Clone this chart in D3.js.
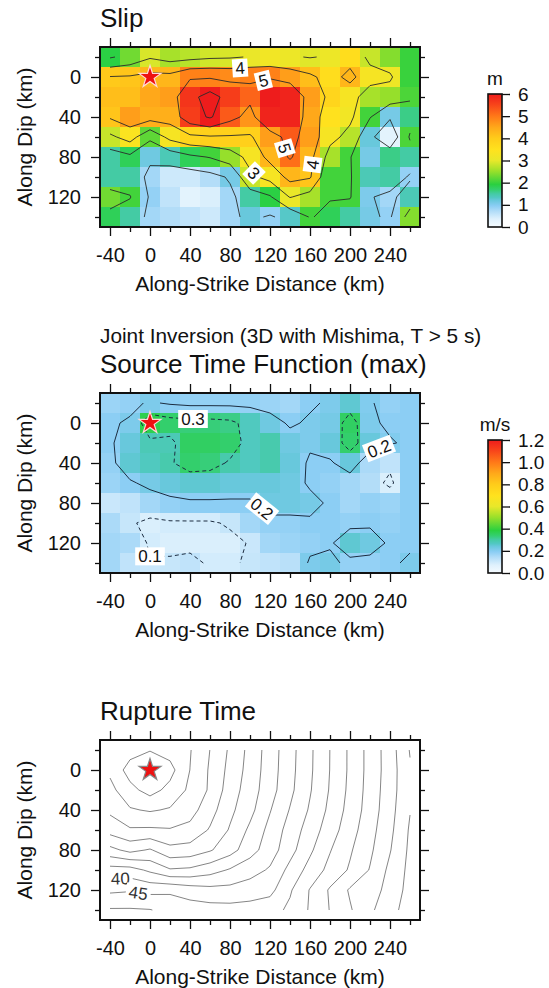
<!DOCTYPE html>
<html>
<head>
<meta charset="utf-8">
<script src="https://cdn.jsdelivr.net/npm/d3@7"></script>
<style>
  body { margin: 0; background: #fff; }
  text { font-family: "Liberation Sans", Arial, sans-serif; fill: #111; }
</style>
</head>
<body>
<svg id="chart" width="549" height="988"></svg>
<script>
// ==================== data ==================== //

// grid nodes (km): along strike and along dip
const xKm = [-40, -20, 0, 20, 40, 60, 80, 100, 120, 140, 160, 180, 200, 220, 240, 260];
const yKm = [-20, 0, 20, 40, 60, 80, 100, 120, 140];

// slip (m), one row per dip node
const slip = [
  [1.9, 2.3, 2.9, 2.6, 2.7, 2.85, 2.9, 3.05, 3.2, 3.1, 2.95, 3.1, 3.6, 2.8, 2.4, 2.0],
  [4.05, 4.1, 4.3, 4.3, 4.9, 4.9, 4.8, 4.9, 4.9, 4.6, 4.2, 3.6, 4.3, 3.3, 3.15, 2.0],
  [4.2, 4.2, 4.5, 4.6, 5.7, 6.4, 5.6, 5.2, 6.0, 5.9, 4.6, 3.8, 3.3, 2.6, 2.5, 2.1],
  [4.1, 4.6, 4.4, 4.4, 5.6, 6.1, 5.3, 4.7, 5.9, 5.9, 4.5, 3.5, 3.2, 2.05, 1.1, 1.6],
  [2.8, 3.4, 2.2, 3.3, 3.8, 3.9, 3.9, 3.9, 4.6, 5.3, 4.6, 3.3, 2.7, 1.2, 0.3, 2.1],
  [1.5, 1.8, 1.15, 1.4, 1.8, 2.05, 2.5, 3.3, 4.3, 5.1, 4.3, 2.6, 2.05, 1.1, 1.6, 1.5],
  [1.5, 1.5, 0.8, 0.5, 0.5, 0.7, 1.1, 2.8, 3.3, 4.3, 4.1, 2.05, 2.05, 1.4, 1.5, 0.9],
  [2.3, 2.05, 0.9, 0.6, 0.3, 0.4, 0.8, 1.5, 1.9, 3.05, 2.6, 2.05, 2.05, 1.05, 0.8, 1.4],
  [1.8, 1.5, 0.8, 0.7, 0.6, 0.5, 0.8, 1.2, 0.9, 1.3, 2.05, 1.8, 1.5, 1.1, 0.9, 2.4]
];

// peak source time function (m/s)
const stf = [
  [0.17, 0.18, 0.21, 0.19, 0.18, 0.18, 0.18, 0.18, 0.17, 0.16, 0.19, 0.21, 0.25, 0.205, 0.18, 0.19],
  [0.19, 0.21, 0.37, 0.34, 0.33, 0.33, 0.32, 0.27, 0.23, 0.19, 0.21, 0.22, 0.35, 0.21, 0.19, 0.19],
  [0.19, 0.24, 0.28, 0.28, 0.35, 0.35, 0.34, 0.27, 0.29, 0.23, 0.21, 0.24, 0.34, 0.24, 0.205, 0.19],
  [0.18, 0.25, 0.27, 0.29, 0.34, 0.33, 0.29, 0.27, 0.29, 0.24, 0.19, 0.19, 0.24, 0.15, 0.12, 0.19],
  [0.17, 0.19, 0.22, 0.24, 0.25, 0.25, 0.24, 0.24, 0.24, 0.23, 0.19, 0.18, 0.16, 0.14, 0.08, 0.19],
  [0.105, 0.12, 0.16, 0.18, 0.19, 0.19, 0.19, 0.19, 0.23, 0.23, 0.22, 0.19, 0.16, 0.18, 0.17, 0.19],
  [0.15, 0.11, 0.08, 0.09, 0.09, 0.09, 0.11, 0.16, 0.18, 0.18, 0.19, 0.19, 0.18, 0.19, 0.18, 0.19],
  [0.16, 0.15, 0.09, 0.08, 0.08, 0.08, 0.08, 0.105, 0.16, 0.17, 0.18, 0.19, 0.25, 0.23, 0.19, 0.19],
  [0.16, 0.12, 0.105, 0.11, 0.12, 0.09, 0.09, 0.11, 0.12, 0.13, 0.21, 0.22, 0.18, 0.18, 0.19, 0.21]
];

// rupture time (s)
const rupture = [
  [9.8, 7.0, 5.3, 7.0, 9.7, 15.05, 20.8, 26.5, 32.4, 38.2, 44.1, 50.05, 55.9, 61.8, 67.6, 75.3],
  [9.0, 2.9, 0.0, 3.3, 10.05, 15.6, 21.5, 26.9, 32.6, 38.4, 44.2, 50.1, 55.9, 61.8, 67.5, 74.5],
  [11.5, 6.5, 3.1, 6.5, 11.0, 15.7, 22.5, 27.5, 33.0, 38.8, 44.6, 50.4, 56.2, 62.0, 67.8, 74.2],
  [14.0, 10.5, 9.5, 10.5, 13.0, 18.0, 23.8, 28.5, 34.7, 40.3, 45.6, 51.2, 56.8, 62.3, 68.2, 74.8],
  [18.0, 15.6, 15.8, 15.4, 16.5, 20.5, 25.5, 31.0, 36.5, 42.0, 47.3, 52.6, 57.9, 63.2, 68.8, 75.6],
  [26.5, 23.5, 25.5, 21.5, 22.0, 24.5, 28.0, 33.0, 37.6, 43.2, 49.1, 54.7, 59.4, 64.1, 69.7, 76.0],
  [37.0, 37.0, 34.0, 30.5, 31.0, 33.0, 35.5, 38.0, 40.6, 46.5, 51.8, 56.5, 60.6, 65.3, 71.2, 76.3],
  [44.0, 44.5, 43.5, 44.0, 42.5, 41.5, 41.5, 42.5, 43.5, 49.4, 55.3, 60.6, 65.6, 67.0, 72.3, 76.5],
  [50.5, 50.5, 50.2, 48.5, 47.5, 47.0, 46.8, 47.0, 48.0, 51.0, 55.5, 60.2, 64.5, 69.0, 73.5, 77.0]
];

const slipLevels = [1, 2, 3, 4, 5, 6];
const stfLevels = [0.1, 0.2, 0.3];
const ruptureLevels = [5, 10, 15, 20, 25, 30, 35, 40, 45, 50, 55, 60, 65, 70, 75];

const slipTicks = [0, 1, 2, 3, 4, 5, 6];
const stfTicks = [0, 0.2, 0.4, 0.6, 0.8, 1.0, 1.2];
const xMajor = [-40, 0, 40, 80, 120, 160, 200, 240];
const xMinor = [-20, 20, 60, 100, 140, 180, 220, 260];
const yMajor = [0, 40, 80, 120];
const yMinor = [-20, 20, 60, 100, 140];

// contour annotations: level and rough spot where it is written
const slipNotes = [[4, 90, -10], [5, 113, 2], [5, 132, 72], [4, 166, 88], [3, 102, 98]];
const stfNotes = [[0.3, 43, -3], [0.2, 111, 87], [0.2, 230, 28], [0.1, -8, 138]];
const ruptureNotes = [[40, -30, 100], [45, -12, 125]];

// ==================== drawing ==================== //

const palette = [
  [0, "#f5fbff"], [0.06, "#dff1fd"], [0.12, "#b0dcf8"], [0.16, "#8acdf4"],
  [0.2, "#68c8dc"], [0.22, "#52c8c4"], [0.25, "#44cba4"], [0.28, "#34cf70"],
  [0.32, "#2ad040"], [0.42, "#9ae02a"], [0.5, "#e8e82a"], [0.58, "#ffe21e"],
  [0.667, "#ffcc1a"], [0.75, "#ffa81a"], [0.833, "#ff7818"], [0.92, "#f8441a"],
  [1, "#ee1c1c"]
];

const svg = d3.select("#chart");
const x = d3.scaleLinear().domain([-50, 270]).range([100, 420]);

function colorScale(vmax) {
  return d3.scaleLinear()
    .domain(palette.map(p => p[0] * vmax))
    .range(palette.map(p => p[1]))
    .clamp(true);
}

function contourLines(values, level) {
  const nx = xKm.length, ny = yKm.length;
  const mp = d3.contours().size([nx, ny]).thresholds([level])(values.flat())[0];
  const onEdge = p => p[0] <= 0 || p[0] >= nx || p[1] <= 0 || p[1] >= ny;
  const lines = [];
  mp.coordinates.forEach(poly => poly.forEach(ring => {
    let cur = null;
    ring.forEach(p => {
      if (onEdge(p)) {
        if (cur && cur.length > 1) lines.push(cur);
        cur = null;
        return;
      }
      if (!cur) cur = [];
      cur.push(p);
    });
    if (cur && cur.length > 1) lines.push(cur);
  }));
  // grid coords -> km
  return lines.map(l => l.map(([gx, gy]) => [-50 + 20 * gx, -30 + 20 * gy]));
}

function drawPanel(top, o) {
  const y = d3.scaleLinear().domain([-30, 150]).range([top, top + 180]);
  const g = svg.append("g");
  const bottom = top + 180;

  if (o.values && o.vmax) {
    const color = colorScale(o.vmax);
    const cells = [];
    o.values.forEach((row, j) => row.forEach((v, i) => cells.push({ i, j, v })));
    g.append("g").selectAll("rect")
      .data(cells)
      .join("rect")
      .attr("x", d => x(xKm[d.i] - 10))
      .attr("y", d => y(yKm[d.j] - 10))
      .attr("width", x(10) - x(-10) + 0.4)
      .attr("height", y(10) - y(-10) + 0.4)
      .attr("fill", d => color(d.v));
  }

  // contours
  const line = d3.line().x(d => x(d[0])).y(d => y(d[1]));
  const byLevel = {};
  o.levels.forEach(level => {
    const lines = contourLines(o.values, level);
    byLevel[level] = lines;
    g.append("g").selectAll("path")
      .data(lines)
      .join("path")
      .attr("d", line)
      .attr("fill", "none")
      .attr("stroke", o.lineColor)
      .attr("stroke-width", o.lineWidth)
      .attr("stroke-dasharray", o.dashed && o.dashed(level) ? "4,3" : null);
  });

  // contour labels snapped onto their line
  o.notes.forEach(([level, kx, ky]) => {
    const px = x(kx), py = y(ky);
    let best = null;
    (byLevel[level] || []).forEach(l => {
      for (let k = 0; k < l.length - 1; k++) {
        const ax = x(l[k][0]), ay = y(l[k][1]), bx = x(l[k + 1][0]), by = y(l[k + 1][1]);
        const dx = bx - ax, dy = by - ay;
        const len2 = dx * dx + dy * dy || 1;
        const t = Math.max(0, Math.min(1, ((px - ax) * dx + (py - ay) * dy) / len2));
        const cx = ax + t * dx, cy = ay + t * dy;
        const dist = (cx - px) ** 2 + (cy - py) ** 2;
        if (!best || dist < best.dist) best = { dist, cx, cy, ang: Math.atan2(dy, dx) * 180 / Math.PI };
      }
    });
    if (!best) best = { cx: px, cy: py, ang: 0 };
    let ang = best.ang;
    if (ang > 90) ang -= 180;
    if (ang < -90) ang += 180;
    const lg = g.append("g").attr("transform", `translate(${best.cx},${best.cy}) rotate(${ang})`);
    const rect = lg.append("rect").attr("fill", "#fff");
    const txt = lg.append("text")
      .attr("text-anchor", "middle")
      .attr("dy", "0.36em")
      .style("font-size", o.noteSize + "px")
      .style("fill", o.noteColor)
      .text(o.noteFormat(level));
    const w = txt.node().getComputedTextLength() + 6;
    const h = o.noteSize + 1;
    rect.attr("x", -w / 2).attr("y", -h / 2).attr("width", w).attr("height", h);
  });

  // hypocentre
  g.append("path")
    .attr("d", d3.symbol(d3.symbolStar).size(150)())
    .attr("transform", `translate(${x(0)},${y(0)})`)
    .attr("fill", "#ee1111")
    .attr("stroke", o.starStroke)
    .attr("stroke-width", 1.2);

  // frame ticks
  const styleAxis = sel => {
    sel.select(".domain").remove();
    sel.selectAll(".tick line").attr("stroke", "#111").attr("stroke-width", 1.3);
    sel.selectAll("text").style("font-size", "20px").style("font-family", "Liberation Sans, Arial, sans-serif").attr("fill", "#111");
  };
  const fmt = d => String(d);
  g.append("g").attr("transform", `translate(0,${bottom})`)
    .call(d3.axisBottom(x).tickValues(xMajor).tickSize(9).tickPadding(12).tickFormat(fmt)).call(styleAxis);
  g.append("g").attr("transform", `translate(0,${bottom})`)
    .call(d3.axisBottom(x).tickValues(xMinor).tickSize(5).tickFormat("")).call(styleAxis);
  g.append("g").attr("transform", `translate(0,${top})`)
    .call(d3.axisTop(x).tickValues(xMajor).tickSize(9).tickFormat("")).call(styleAxis);
  g.append("g").attr("transform", `translate(0,${top})`)
    .call(d3.axisTop(x).tickValues(xMinor).tickSize(5).tickFormat("")).call(styleAxis);
  g.append("g").attr("transform", `translate(${x(-50)},0)`)
    .call(d3.axisLeft(y).tickValues(yMajor).tickSize(9).tickPadding(10).tickFormat(fmt)).call(styleAxis);
  g.append("g").attr("transform", `translate(${x(-50)},0)`)
    .call(d3.axisLeft(y).tickValues(yMinor).tickSize(5).tickFormat("")).call(styleAxis);
  g.append("g").attr("transform", `translate(${x(270)},0)`)
    .call(d3.axisRight(y).tickValues(yMajor).tickSize(9).tickFormat("")).call(styleAxis);
  g.append("g").attr("transform", `translate(${x(270)},0)`)
    .call(d3.axisRight(y).tickValues(yMinor).tickSize(5).tickFormat("")).call(styleAxis);

  g.append("rect")
    .attr("x", x(-50)).attr("y", top)
    .attr("width", x(270) - x(-50)).attr("height", 180)
    .attr("fill", "none").attr("stroke", "#111").attr("stroke-width", 2);

  // titles
  g.append("text").attr("x", 100).attr("y", top - 20).style("font-size", "26px").text(o.title);
  g.append("text").attr("x", (x(-50) + x(270)) / 2).attr("y", bottom + 64)
    .attr("text-anchor", "middle").style("font-size", "21px").text("Along-Strike Distance (km)");
  g.append("text").attr("transform", `translate(32,${top + 90}) rotate(-90)`)
    .attr("text-anchor", "middle").style("font-size", "21px").text("Along Dip (km)");

  // colour bar
  if (o.vmax) {
    const id = "grad" + Math.round(top);
    const grad = svg.append("defs").append("linearGradient")
      .attr("id", id).attr("x1", 0).attr("y1", 1).attr("x2", 0).attr("y2", 0);
    grad.selectAll("stop").data(palette).join("stop")
      .attr("offset", d => d[0]).attr("stop-color", d => d[1]);
    const cb = d3.scaleLinear().domain([0, o.vmax]).range([bottom, top + 47]);
    g.append("rect")
      .attr("x", 488).attr("y", cb(o.vmax)).attr("width", 14).attr("height", cb(0) - cb(o.vmax))
      .attr("fill", `url(#${id})`).attr("stroke", "#111").attr("stroke-width", 1.6);
    g.append("g").attr("transform", "translate(502,0)")
      .call(d3.axisRight(cb).tickValues(o.cbTicks).tickSize(8).tickPadding(8).tickFormat(o.cbFormat))
      .call(styleAxis)
      .call(s => s.selectAll("text").style("font-size", "19px"));
    g.append("text").attr("x", 495).attr("y", top + 38).attr("text-anchor", "middle")
      .style("font-size", "19px").text(o.unit);
  }
}

drawPanel(47, {
  title: "Slip", values: slip, vmax: 6, levels: slipLevels,
  lineColor: "#2a2a2a", lineWidth: 0.9,
  notes: slipNotes, noteSize: 17, noteColor: "#111", noteFormat: d => String(d),
  starStroke: "#ffd8d8", cbTicks: slipTicks, cbFormat: d => String(d), unit: "m"
});

svg.append("text").attr("x", 100).attr("y", 343).style("font-size", "20.8px")
  .text("Joint Inversion (3D with Mishima, T > 5 s)");

drawPanel(393, {
  title: "Source Time Function (max)", values: stf, vmax: 1.2, levels: stfLevels,
  lineColor: "#1c2c40", lineWidth: 1, dashed: l => l !== 0.2,
  notes: stfNotes, noteSize: 17, noteColor: "#111", noteFormat: d3.format(".1f"),
  starStroke: "#ffd8d8", cbTicks: stfTicks, cbFormat: d3.format(".1f"), unit: "m/s"
});

drawPanel(740, {
  title: "Rupture Time", values: rupture, vmax: null, levels: ruptureLevels,
  lineColor: "#666", lineWidth: 0.8,
  notes: ruptureNotes, noteSize: 17, noteColor: "#333", noteFormat: d => String(d),
  starStroke: "#888"
});
</script>
</body>
</html>
